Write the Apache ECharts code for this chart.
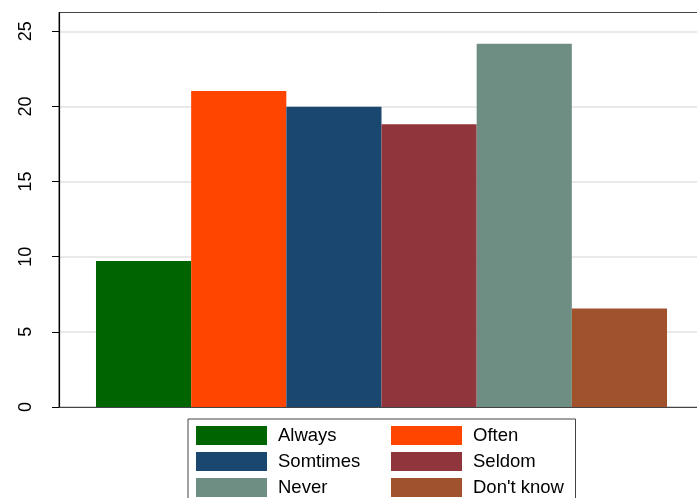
<!DOCTYPE html>
<html>
<head>
<meta charset="utf-8">
<script src="https://cdn.jsdelivr.net/npm/echarts@6/dist/echarts.min.js"></script>
<style>html,body{margin:0;padding:0;background:#fff}#c{width:697px;height:498px}</style>
</head>
<body>
<div id="c"></div>
<script>
var seriesNames = ['Always', 'Often', 'Somtimes', 'Seldom', 'Never', "Don't know"];
var seriesValues = [9.72, 21.02, 19.98, 18.82, 24.17, 6.55];
var seriesColors = ['#006400', '#ff4500', '#1a476f', '#90353b', '#6e8e84', '#a0522d'];
var yTicks = [0, 5, 10, 15, 20, 25];
var legendCol1 = ['Always', 'Somtimes', 'Never'];
var legendCol2 = ['Often', 'Seldom', "Don't know"];

var chart = echarts.init(document.getElementById('c'), null, {renderer: 'canvas'});
var series = seriesNames.map(function (n, i) {
  return {
    name: n, type: 'bar', data: [seriesValues[i]],
    itemStyle: {color: seriesColors[i]},
    barGap: '0%', barCategoryGap: '11.47%',
    animation: false
  };
});
var font = 'Liberation Sans, Arial, sans-serif';
chart.setOption({
  animation: false,
  grid: {left: 59, right: -7, top: 12.5, bottom: 91, show: true, borderColor: '#444', borderWidth: 1,
         containLabel: false, outerBoundsMode: 'none'},
  xAxis: {
    type: 'category', data: [''],
    axisLine: {show: true, lineStyle: {color: '#444', width: 1}},
    axisTick: {show: false}, axisLabel: {show: false}
  },
  yAxis: {
    type: 'value', min: 0, max: 26.25,
    axisLine: {show: true, lineStyle: {color: '#000', width: 1.2}},
    axisTick: {show: true, length: 7, lineStyle: {color: '#000'}, customValues: yTicks},
    axisLabel: {rotate: 90, margin: 24, fontSize: 18, color: '#000', fontFamily: font, customValues: yTicks},
    splitLine: {show: true, lineStyle: {color: '#e2e2e2', width: 1.5}}
  },
  legend: [
    {data: legendCol1, orient: 'vertical', left: 196, top: 426, padding: 0, itemWidth: 71, itemHeight: 19, itemGap: 7,
     icon: 'rect', textStyle: {fontSize: 18.5, color: '#000', fontFamily: font, padding: [3, 0, 0, 6]}, selectedMode: false},
    {data: legendCol2, orient: 'vertical', left: 391, top: 426, padding: 0, itemWidth: 71, itemHeight: 19, itemGap: 7,
     icon: 'rect', textStyle: {fontSize: 18.5, color: '#000', fontFamily: font, padding: [3, 0, 0, 6]}, selectedMode: false}
  ],
  graphic: [{
    type: 'rect', left: 187.5, top: 418.5, z: -1,
    shape: {width: 387.5, height: 100},
    style: {fill: '#fff', stroke: '#444', lineWidth: 1}
  }],
  series: series
});
</script>
</body>
</html>
